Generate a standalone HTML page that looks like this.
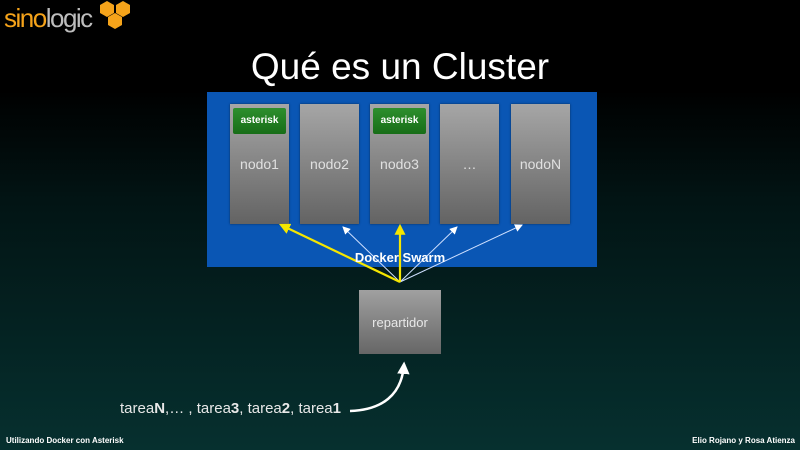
<!DOCTYPE html>
<html><head><meta charset="utf-8"><style>
html,body{margin:0;padding:0}
body{width:800px;height:450px;overflow:hidden;position:relative;background:linear-gradient(#000 0px,#000 90px,#021414 200px,#06302f 450px);font-family:"Liberation Sans",sans-serif;color:#fff}
.abs{position:absolute}
.node{position:absolute;top:104px;width:59px;height:120px;background:linear-gradient(#a6a6a6,#636363);box-shadow:0 0 2px rgba(0,0,0,.5)}
.node span{position:absolute;left:0;right:0;top:52px;text-align:center;font-size:14px;color:#e0e0e0}
.ast{position:absolute;left:3px;top:4px;width:53px;height:26px;background:linear-gradient(#2d8f2d,#176d17);border-radius:2px;font-size:10px;font-weight:bold;text-align:center;line-height:26px;color:#fff}
</style></head><body>
<div class="abs" style="left:4px;top:3px;font-size:26px;letter-spacing:-1.5px;line-height:30px"><span style="color:#f5a31a">sino</span><span style="color:#bdbdbd">logic</span></div>
<svg class="abs" style="left:0;top:0" width="800" height="450">
<g fill="#f5a31a">
<polygon points="107,1 114,5 114,13 107,17 100,13 100,5"/>
<polygon points="123,1 130,5 130,13 123,17 116,13 116,5"/>
<polygon points="115,13 122,17 122,25 115,29 108,25 108,17"/>
</g></svg>
<div class="abs" style="left:0;width:800px;top:44px;text-align:center;font-size:37px;color:#fff;line-height:46px">Qué es un Cluster</div>
<div class="abs" style="left:207px;top:92px;width:390px;height:175px;background:#0a56b4"></div>
<div class="node" style="left:230px"><div class="ast">asterisk</div><span>nodo1</span></div>
<div class="node" style="left:300px"><span>nodo2</span></div>
<div class="node" style="left:370px"><div class="ast">asterisk</div><span>nodo3</span></div>
<div class="node" style="left:440px"><span>…</span></div>
<div class="node" style="left:511px"><span>nodoN</span></div>
<div class="abs" style="left:359px;top:290px;width:82px;height:64px;background:linear-gradient(#a0a0a0,#666)"><span style="position:absolute;left:0;right:0;top:25px;text-align:center;font-size:13px;color:#e8e8e8">repartidor</span></div>
<svg class="abs" style="left:0;top:0" width="800" height="450">
<defs>
<marker id="y" markerWidth="5" markerHeight="5" refX="4" refY="2.5" orient="auto" markerUnits="strokeWidth"><path d="M0,0 L5,2.5 L0,5 z" fill="#f5e600"/></marker>
<marker id="w" markerWidth="8" markerHeight="8" refX="7" refY="4" orient="auto" markerUnits="strokeWidth"><path d="M0,0 L8,4 L0,8 z" fill="#fff"/></marker>
<marker id="wb" markerWidth="5" markerHeight="5" refX="4" refY="2.5" orient="auto" markerUnits="strokeWidth"><path d="M0,0 L5,2.5 L0,5 z" fill="#fff"/></marker>
</defs>
<line x1="400" y1="282" x2="343" y2="227" stroke="#cfe0ff" stroke-width="1" marker-end="url(#w)"/>
<line x1="400" y1="282" x2="457" y2="227" stroke="#cfe0ff" stroke-width="1" marker-end="url(#w)"/>
<line x1="400" y1="282" x2="522" y2="225" stroke="#cfe0ff" stroke-width="1" marker-end="url(#w)"/>
<line x1="400" y1="282" x2="281" y2="225" stroke="#f5e600" stroke-width="2.2" marker-end="url(#y)"/>
<line x1="400" y1="282" x2="400" y2="226" stroke="#f5e600" stroke-width="2.2" marker-end="url(#y)"/>
<text x="400" y="262" text-anchor="middle" font-family="Liberation Sans, sans-serif" font-weight="bold" font-size="13" fill="#fff">Docker Swarm</text>
<path d="M350,411 C382,410 402,395 404,364" fill="none" stroke="#fff" stroke-width="2.5" marker-end="url(#wb)"/>
</svg>
<div class="abs" style="left:120px;top:400px;font-size:15px;color:#e8e8e8;line-height:18px">tarea<b>N</b>,… , tarea<b>3</b>, tarea<b>2</b>, tarea<b>1</b></div>
<div class="abs" style="left:6px;top:436px;font-size:8px;font-weight:bold;color:#fff">Utilizando Docker con Asterisk</div>
<div class="abs" style="right:5px;top:436px;font-size:8px;font-weight:bold;color:#fff">Elio Rojano y Rosa Atienza</div>
</body></html>
